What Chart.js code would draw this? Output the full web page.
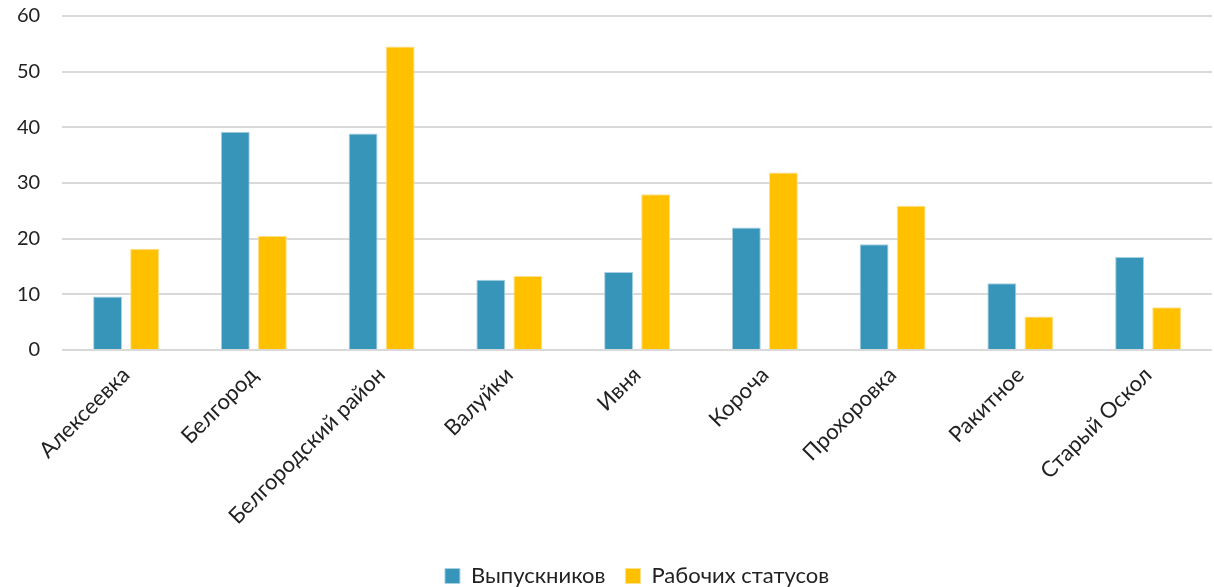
<!DOCTYPE html>
<html>
<head>
<meta charset="utf-8">
<script src="https://cdn.jsdelivr.net/npm/chart.js@4"></script>
<style>
    html, body { margin: 0; padding: 0; background: #fff; }
    #wrap { width: 1214px; height: 587px; }
</style>
</head>
<body>
<div id="wrap"><canvas id="chart"></canvas></div>
<script>
// Data
const categories = ['Алексеевка', 'Белгород', 'Белгородский район', 'Валуйки', 'Ивня', 'Короча', 'Прохоровка', 'Ракитное', 'Старый Оскол'];
const graduates = [9.6, 39.2, 38.9, 12.6, 14.0, 22.0, 19.0, 12.0, 16.7];
const workStatuses = [18.2, 20.5, 54.5, 13.3, 28.0, 31.9, 25.9, 6.0, 7.7];
const yTicks = [0, 10, 20, 30, 40, 50, 60];

const fontFamily = "Lato, 'Open Sans', sans-serif";

// drop the extra padding chart.js reserves for rotated / edge labels
function noEdgePadding(scale) {
    scale.paddingLeft = 0;
    scale.paddingRight = 0;
    scale.paddingTop = 0;
    scale.paddingBottom = 0;
}

const ctx = document.getElementById('chart').getContext('2d');
new Chart(ctx, {
    type: 'bar',
    data: {
        labels: categories,
        datasets: [{
            label: 'Выпускников',
            data: graduates,
            backgroundColor: '#3795BA',
            borderColor: '#A9D0E0',
            borderWidth: 1,
            categoryPercentage: 0.58,
            barPercentage: 0.78
        }, {
            label: 'Рабочих статусов',
            data: workStatuses,
            backgroundColor: '#FFC000',
            borderColor: '#FFE08A',
            borderWidth: 1,
            categoryPercentage: 0.58,
            barPercentage: 0.78
        }]
    },
    options: {
        responsive: true,
        maintainAspectRatio: false,
        animation: false,
        layout: { padding: { left: -5, right: 2, top: 16, bottom: -10 } },
        plugins: {
            legend: {
                position: 'bottom',
                fullSize: false,
                labels: {
                    font: { family: fontFamily, size: 22 },
                    color: '#222',
                    boxWidth: 15,
                    boxHeight: 15,
                    padding: 20
                }
            },
            tooltip: { enabled: false }
        },
        scales: {
            x: {
                grid: { display: false },
                border: { display: false },
                afterFit: scale => {
                    noEdgePadding(scale);
                    scale.height = 195;
                },
                ticks: {
                    font: { family: fontFamily, size: 22 },
                    color: '#222',
                    minRotation: 45,
                    maxRotation: 45,
                    autoSkip: false,
                    padding: 4
                }
            },
            y: {
                min: 0,
                max: 60,
                afterBuildTicks: axis => {
                    axis.ticks = yTicks.map(v => ({ value: v }));
                },
                afterFit: noEdgePadding,
                grid: { color: '#D9D9D9', lineWidth: 2, drawTicks: false },
                border: { display: false },
                ticks: {
                    font: { family: fontFamily, size: 20 },
                    color: '#222',
                    padding: 22
                }
            }
        }
    }
});
</script>
</body>
</html>
